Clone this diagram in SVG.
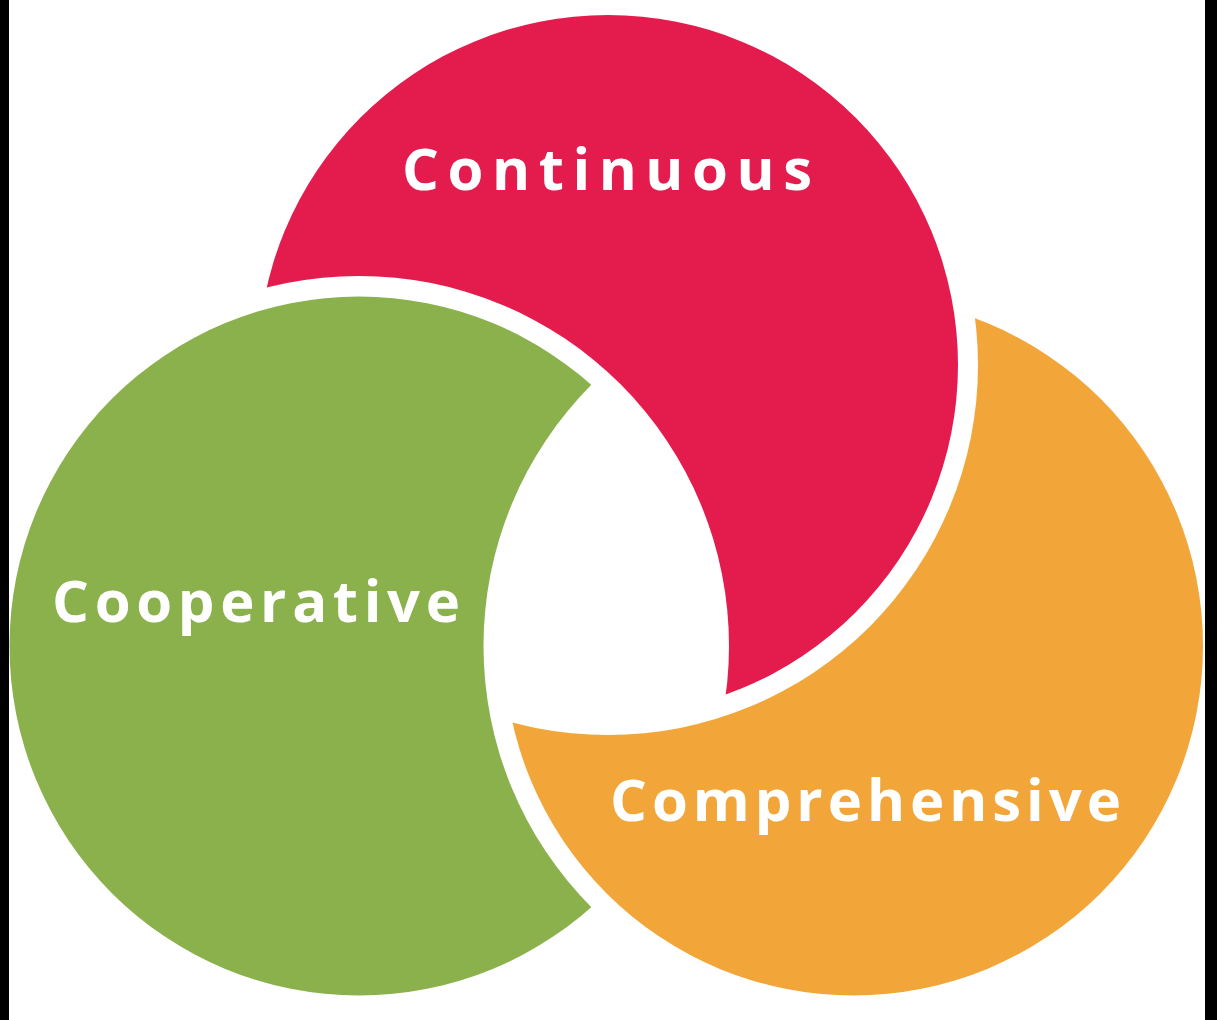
<svg xmlns="http://www.w3.org/2000/svg" width="1217" height="1020" viewBox="0 0 1217 1020">
  <style>
    .lbl { font-family: "Open Sans", "Liberation Sans", Arial, sans-serif; font-weight: 700; font-size: 58px; fill: #ffffff; }
  </style>
  <defs>
    <mask id="m-red" maskUnits="userSpaceOnUse" x="0" y="0" width="1217" height="1020">
      <rect x="0" y="0" width="1217" height="1020" fill="#fff"/>
      <circle cx="359" cy="646" r="370" fill="#000"/>
    </mask>
    <mask id="m-green" maskUnits="userSpaceOnUse" x="0" y="0" width="1217" height="1020">
      <rect x="0" y="0" width="1217" height="1020" fill="#fff"/>
      <circle cx="853.5" cy="646" r="370" fill="#000"/>
    </mask>
    <mask id="m-orange" maskUnits="userSpaceOnUse" x="0" y="0" width="1217" height="1020">
      <rect x="0" y="0" width="1217" height="1020" fill="#fff"/>
      <circle cx="608" cy="365" r="370" fill="#000"/>
    </mask>
  </defs>
  <rect x="0" y="0" width="1217" height="1020" fill="#ffffff"/>
  <rect x="0" y="0" width="9" height="1020" fill="#000000"/>
  <rect x="1205" y="0" width="12" height="1020" fill="#000000"/>

  <g id="continuous">
    <circle cx="608" cy="365" r="350" fill="#E41C4D" mask="url(#m-red)"/>
    <text class="lbl" x="402" y="190" textLength="410" lengthAdjust="spacing">Continuous</text>
  </g>
  <g id="cooperative">
    <circle cx="359" cy="646" r="349.5" fill="#8BB14D" mask="url(#m-green)"/>
    <text class="lbl" x="52" y="622" textLength="408" lengthAdjust="spacing">Cooperative</text>
  </g>
  <g id="comprehensive">
    <circle cx="853.5" cy="646" r="349.5" fill="#F2A63A" mask="url(#m-orange)"/>
    <text class="lbl" x="610" y="821" textLength="511" lengthAdjust="spacing">Comprehensive</text>
  </g>
  <g id="connectors"></g>
</svg>
